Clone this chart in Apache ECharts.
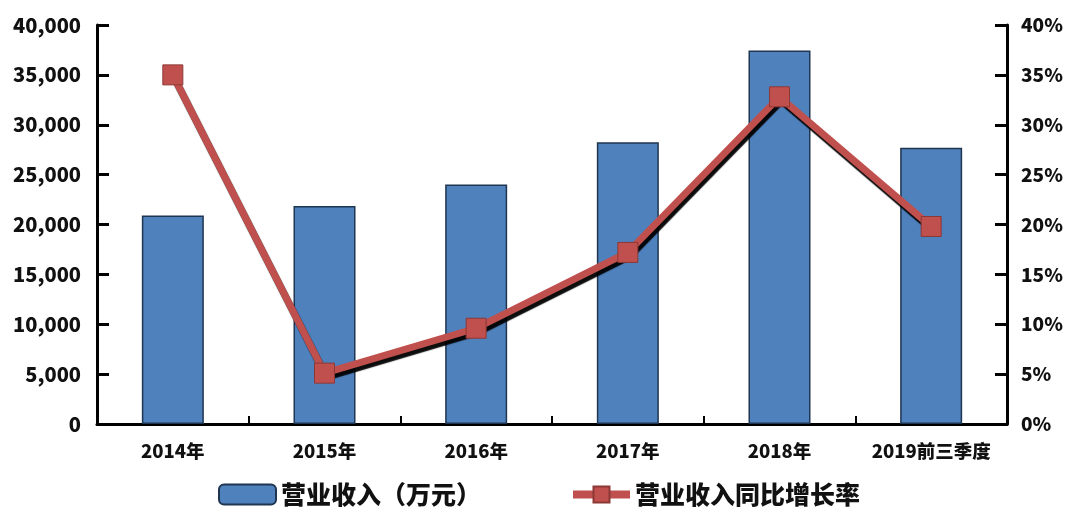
<!DOCTYPE html>
<html><head><meta charset="utf-8">
<script src="https://cdn.jsdelivr.net/npm/echarts@6/dist/echarts.min.js"></script>
<style>html,body{margin:0;padding:0;background:#fff}#c{width:1080px;height:524px}</style>
</head><body><div id="c"></div>
<script>
const categories = ['2014年','2015年','2016年','2017年','2018年','2019前三季度'];
const revenue = [20900, 21850, 24000, 28250, 37450, 27700];
const growth = [35.0, 5.1, 9.6, 17.2, 32.8, 19.8];
const revenueName = '营业收入（万元）';
const growthName = '营业收入同比增长率';

const font = '"Noto Sans CJK SC", "Noto Sans", sans-serif';
const chart = echarts.init(document.getElementById('c'));
chart.setOption({
  animation: false,
  backgroundColor: '#fff',
  textStyle: { fontFamily: font },
  grid: { left: 97, right: 73, top: 25, bottom: 100 },
  legend: {
    bottom: 12, left: 213, itemGap: 88, itemWidth: 57, itemHeight: 20,
    textStyle: { fontSize: 25, fontWeight: 900, color: '#111', fontFamily: font },
    data: [
      { name: revenueName, icon: 'roundRect' },
      { name: growthName, lineStyle: { width: 8 } }
    ]
  },
  xAxis: {
    type: 'category', data: categories,
    axisLine: { lineStyle: { color: '#000', width: 3 } },
    axisTick: { show: true, inside: true, interval: 0, length: 8, lineStyle: { color: '#000', width: 2 } },
    axisLabel: { interval: 0, fontSize: 18.5, fontWeight: 900, color: '#111', margin: 18, fontFamily: font }
  },
  yAxis: [
    {
      type: 'value', min: 0, max: 40000, interval: 5000,
      axisLine: { show: true, lineStyle: { color: '#000', width: 3 } },
      axisTick: { show: true, inside: true, length: 12, lineStyle: { color: '#000', width: 3 } },
      splitLine: { show: false },
      axisLabel: { fontSize: 20, fontWeight: 900, color: '#111', margin: 16, fontFamily: font,
        formatter: v => v === 0 ? '0' : echarts.format.addCommas(v) }
    },
    {
      type: 'value', min: 0, max: 40, interval: 5, position: 'right',
      axisLine: { show: true, lineStyle: { color: '#000', width: 3 } },
      axisTick: { show: true, inside: true, length: 12, lineStyle: { color: '#000', width: 3 } },
      splitLine: { show: false },
      axisLabel: { fontSize: 19, fontWeight: 900, color: '#111', margin: 14, fontFamily: font,
        formatter: v => v + '%' }
    }
  ],
  series: [
    {
      name: revenueName, type: 'bar', data: revenue, barWidth: 62, yAxisIndex: 0,
      itemStyle: { color: '#4F81BD', borderColor: '#1F3550', borderWidth: 1.5 }
    },
    {
      name: growthName, type: 'line', data: growth, yAxisIndex: 1,
      symbol: 'rect', symbolSize: 20,
      lineStyle: { color: '#C0504D', width: 7, shadowColor: 'rgba(0,0,0,0.95)', shadowBlur: 1, shadowOffsetX: 2, shadowOffsetY: 4 },
      itemStyle: { color: '#C0504D', borderColor: '#8C3836', borderWidth: 1 }
    }
  ]
});
</script></body></html>
